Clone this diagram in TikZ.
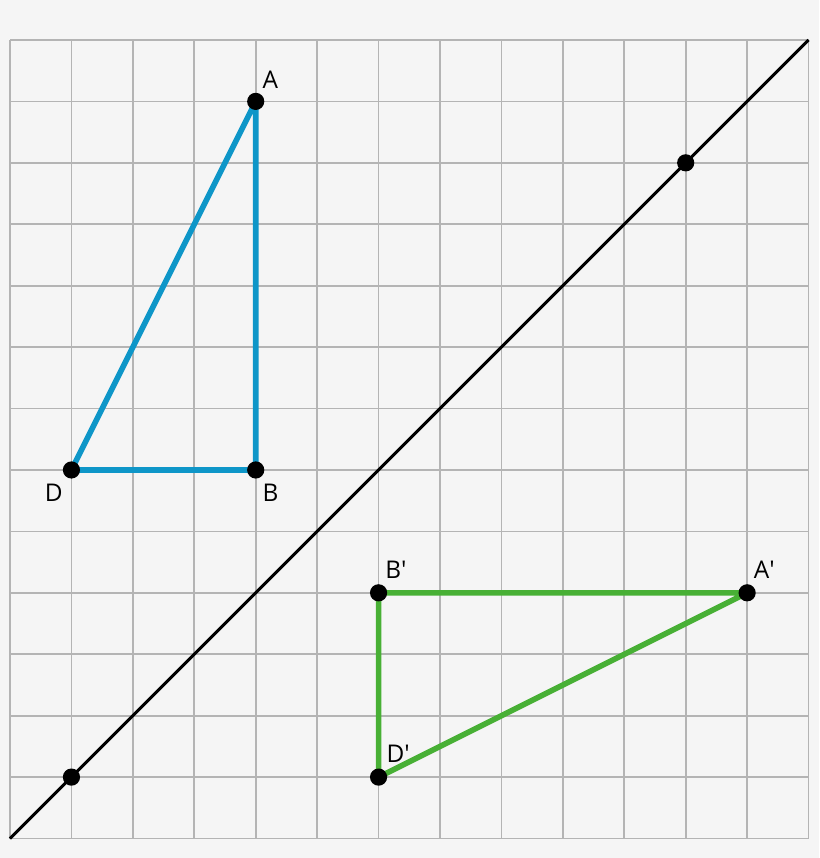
\documentclass[tikz,border=0pt]{standalone}
\usepackage{fontspec}
\setsansfont{Open Sans}
\usepackage{xcolor}
\usepackage{tikz}
\usetikzlibrary{positioning}
\definecolor{paper}{HTML}{F5F5F5}
\definecolor{gridgray}{HTML}{B4B4B4}
\definecolor{origblue}{HTML}{0E96C8}
\definecolor{imggreen}{HTML}{48B035}
\newcommand{\prm}{\textquotesingle}

\begin{document}
\begin{tikzpicture}[font=\sffamily\fontsize{11.3}{13}\selectfont,
		dot/.style={circle, fill=black, minimum size=0.28cm, inner sep=0pt},
		lbl/.style={inner sep=0pt},
		gridline/.style={gridgray, line width=0.8pt},
		mirror/.style={black, line width=1.4pt},
		orig/.style={origblue, line width=2.6pt},
		img/.style={imggreen, line width=2.6pt}]
		\fill[paper] (-0.163,-0.317) rectangle (13.171,13.651);
		\useasboundingbox (-0.163,-0.317) rectangle (13.171,13.651);
		\draw[gridline] (0,0) grid (13,13);
		% line of reflection
		\coordinate (lo) at (0,0);
		\coordinate (hi) at (13,13);
		\draw[mirror] (lo) -- (hi);
		\node[dot] (P) at (1,1) {};
		\node[dot] (Q) at (11,11) {};
		% original triangle
		\coordinate (A) at (4,12);
		\coordinate (B) at (4,6);
		\coordinate (D) at (1,6);
		\draw[orig, line join=round] (A) -- (B) -- (D) -- cycle;
		% image triangle
		\coordinate (A') at (12,4);
		\coordinate (B') at (6,4);
		\coordinate (D') at (6,1);
		\draw[img, line join=round] (A') -- (B') -- (D') -- cycle;
		\node[dot] (dA) at (A) {};
		\node[dot] (dB) at (B) {};
		\node[dot] (dD) at (D) {};
		\node[dot] (dA') at (A') {};
		\node[dot] (dB') at (B') {};
		\node[dot] (dD') at (D') {};
		\node[lbl, above right=0.1cm and 0cm of dA] (lA) {A};
		\node[lbl, below right=0.12cm and 0cm of dB] (lB) {B};
		\node[lbl, below left=0.12cm and 0.03cm of dD] (lD) {D};
		\node[lbl, above right=0.12cm and 0cm of dA'] (lA') {A\prm};
		\node[lbl, above right=0.12cm and 0cm of dB'] (lB') {B\prm};
		\node[lbl, above right=0.12cm and 0.02cm of dD'] (lD') {D\prm};
	\end{tikzpicture}
\end{document}
